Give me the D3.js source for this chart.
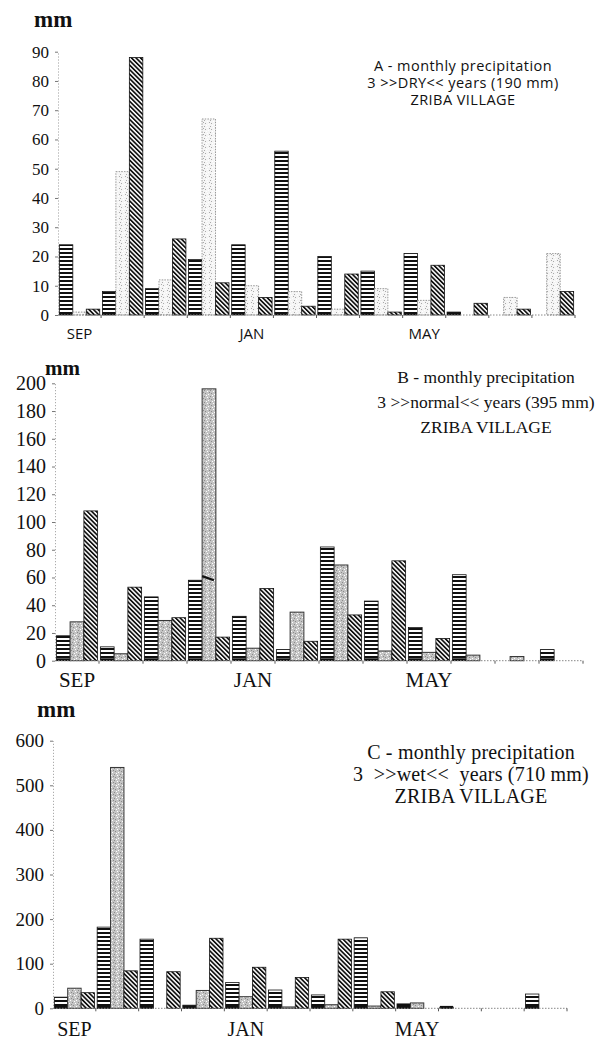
<!DOCTYPE html>
<html>
<head>
<meta charset="utf-8">
<script src="https://cdn.jsdelivr.net/npm/d3@7"></script>
<style>
  body { margin: 0; background: #fff; }
  svg text { fill: #111; }
</style>
</head>
<body>
<div id="chart"></div>
<script>
// months of the hydrological year, Sep -> Aug
const months = ["SEP", "OCT", "NOV", "DEC", "JAN", "FEB", "MAR", "APR", "MAY", "JUN", "JUL", "AUG"];
const shownMonths = ["SEP", "JAN", "MAY"];

// A - 3 dry years (mm)
const dry1 = [24, 8, 9, 19, 24, 56, 20, 15, 21, 1, 0, 0];
const dry2 = [1, 49, 12, 67, 10, 8, 2, 9, 5, 0, 6, 21];
const dry3 = [2, 88, 26, 11, 6, 3, 14, 1, 17, 4, 2, 8];

// B - 3 normal years (mm)
const normal1 = [18, 10, 46, 58, 32, 8, 82, 43, 24, 62, 0, 8];
const normal2 = [28, 5, 29, 196, 9, 35, 69, 7, 6, 4, 3, 0];
const normal3 = [108, 53, 31, 17, 52, 14, 33, 72, 16, 0, 0, 0];

// C - 3 wet years (mm)
const wet1 = [25, 182, 155, 7, 58, 41, 30, 158, 10, 2, 0, 32];
const wet2 = [45, 540, 0, 40, 26, 3, 8, 5, 12, 0, 0, 0];
const wet3 = [35, 84, 82, 157, 92, 69, 155, 37, 0, 0, 0, 0];

// tick labels
const ticksA = [0, 10, 20, 30, 40, 50, 60, 70, 80, 90];
const ticksB = [0, 20, 40, 60, 80, 100, 120, 140, 160, 180, 200];
const ticksC = [0, 100, 200, 300, 400, 500, 600];

const titleA = ["A - monthly precipitation", "3 >>DRY<< years (190 mm)", "ZRIBA VILLAGE"];
const titleB = ["B - monthly precipitation", "3 >>normal<< years (395 mm)", "ZRIBA VILLAGE"];
const titleC = ["C - monthly precipitation", "3  >>wet<<  years (710 mm)", "ZRIBA VILLAGE"];

const width = 602, height = 1039;
const serif = "'Liberation Serif', 'DejaVu Serif', serif";
const sans = "'Open Sans', 'DejaVu Sans', sans-serif";

const svg = d3.select("#chart").append("svg")
    .attr("width", width)
    .attr("height", height);

// fill patterns
const defs = svg.append("defs");

const stripes = defs.append("pattern")
    .attr("id", "stripes")
    .attr("patternUnits", "userSpaceOnUse")
    .attr("width", 4).attr("height", 4);
stripes.append("rect").attr("width", 4).attr("height", 4).attr("fill", "#fff");
stripes.append("rect").attr("width", 4).attr("height", 2).attr("fill", "#111");

const hatch = defs.append("pattern")
    .attr("id", "hatch")
    .attr("patternUnits", "userSpaceOnUse")
    .attr("width", 3.2).attr("height", 3.2)
    .attr("patternTransform", "rotate(-45)");
hatch.append("rect").attr("width", 3.2).attr("height", 3.2).attr("fill", "#fff");
hatch.append("rect").attr("width", 1.7).attr("height", 3.2).attr("fill", "#111");

function stipple(id, bg, dots) {
    const p = defs.append("pattern")
        .attr("id", id)
        .attr("patternUnits", "userSpaceOnUse")
        .attr("width", 6).attr("height", 6);
    p.append("rect").attr("width", 6).attr("height", 6).attr("fill", bg);
    [[0, 0], [3, 1], [1, 3], [4, 4], [5, 2], [2, 5]].forEach((d, i) => {
        p.append("rect")
            .attr("x", d[0]).attr("y", d[1])
            .attr("width", 1).attr("height", 1)
            .attr("fill", i % 2 ? "#fff" : dots);
    });
}
stipple("dotsLight", "#f5f5f5", "#aaa");
stipple("dotsGrey", "#c4c4c4", "#8a8a8a");

// panels: data + where they sit on the page
const panels = [
    { series: [dry1, dry2, dry3], ticks: ticksA, max: 90, x0: 58, x1: 575, y0: 315, y1: 51.7,
      title: titleA, titleX: 463, titleY: 71, titleGap: 17, titleFont: sans, titleSize: 14.5, titleSpacing: 0.45,
      mm: [34, 27, 23], labelSize: 17, monthFont: sans, monthSize: 15, monthY: 339,
      dots: "dotsLight", dotsStroke: "#999", dotsDash: "1.5,1.2" },
    { series: [normal1, normal2, normal3], ticks: ticksB, max: 200, x0: 55, x1: 583, y0: 660.7, y1: 383.3,
      title: titleB, titleX: 486, titleY: 383, titleGap: 25, titleFont: serif, titleSize: 17.5, titleSpacing: 0,
      mm: [45, 375, 21], labelSize: 20, monthFont: serif, monthSize: 21, monthY: 687,
      dots: "dotsGrey", dotsStroke: "#333", dotsDash: null },
    { series: [wet1, wet2, wet3], ticks: ticksC, max: 600, x0: 53, x1: 567, y0: 1008.3, y1: 740.7,
      title: titleC, titleX: 471, titleY: 759, titleGap: 22, titleFont: serif, titleSize: 20, titleSpacing: 0.2,
      mm: [37, 717, 23], labelSize: 19, monthFont: serif, monthSize: 20, monthY: 1036,
      dots: "dotsGrey", dotsStroke: "#333", dotsDash: null }
];

panels.forEach(function(p) {
    const g = svg.append("g");

    const x = d3.scaleBand()
        .domain(months)
        .range([p.x0, p.x1]);

    const xSub = d3.scaleBand()
        .domain([0, 1, 2])
        .range([0, x.bandwidth()])
        .paddingOuter(0.1);

    const y = d3.scaleLinear()
        .domain([0, p.max])
        .range([p.y0, p.y1]);

    // bars
    const fills = ["url(#stripes)", "url(#" + p.dots + ")", "url(#hatch)"];
    p.series.forEach(function(values, s) {
        const rows = values.map((v, i) => ({ month: months[i], value: v })).filter(d => d.value > 0);
        g.append("g")
            .selectAll("rect")
            .data(rows)
            .join("rect")
            .attr("x", d => x(d.month) + xSub(s))
            .attr("y", d => y(d.value))
            .attr("width", xSub.bandwidth())
            .attr("height", d => y(0) - y(d.value))
            .attr("fill", fills[s])
            .attr("stroke", s === 1 ? p.dotsStroke : "#111")
            .attr("stroke-width", s === 1 ? 1 : 0.8)
            .attr("stroke-dasharray", s === 1 ? p.dotsDash : null);

        // dark foot on the striped bars
        if (s === 0) {
            g.append("g")
                .selectAll("line")
                .data(rows)
                .join("line")
                .attr("x1", d => x(d.month) + xSub(s))
                .attr("x2", d => x(d.month) + xSub(s) + xSub.bandwidth())
                .attr("y1", y(0) - 1.2)
                .attr("y2", y(0) - 1.2)
                .attr("stroke", "#111")
                .attr("stroke-width", 2.4);
        }
    });

    // y axis
    const yAxis = d3.axisLeft(y)
        .tickValues(p.ticks)
        .tickSize(3)
        .tickSizeOuter(0)
        .tickPadding(6);

    const ya = g.append("g")
        .attr("transform", `translate(${p.x0},0)`)
        .call(yAxis);
    ya.select(".domain")
        .attr("stroke", "#999")
        .attr("stroke-dasharray", "1,2");
    ya.selectAll(".tick line").attr("stroke", "#777");
    ya.selectAll(".tick text")
        .attr("font-family", serif)
        .attr("font-size", p.labelSize)
        .attr("fill", "#111");

    // baseline with month separators
    g.append("line")
        .attr("x1", p.x0).attr("x2", p.x1)
        .attr("y1", y(0)).attr("y2", y(0))
        .attr("stroke", "#888")
        .attr("stroke-dasharray", "1.5,1.5");
    g.append("g")
        .selectAll("line")
        .data(months.slice(1).concat(["END"]))
        .join("line")
        .attr("x1", d => d === "END" ? p.x1 : x(d))
        .attr("x2", d => d === "END" ? p.x1 : x(d))
        .attr("y1", y(0))
        .attr("y2", y(0) + 3)
        .attr("stroke", "#555");

    g.append("g")
        .selectAll("text")
        .data(shownMonths)
        .join("text")
        .attr("x", d => x(d) + x.bandwidth() / 2)
        .attr("y", p.monthY)
        .attr("text-anchor", "middle")
        .attr("font-family", p.monthFont)
        .attr("font-size", p.monthSize)
        .text(d => d);

    // unit label
    g.append("text")
        .attr("x", p.mm[0])
        .attr("y", p.mm[1])
        .attr("font-family", serif)
        .attr("font-weight", "bold")
        .attr("font-size", p.mm[2])
        .text("mm");

    // title
    g.append("g")
        .selectAll("text")
        .data(p.title)
        .join("text")
        .attr("x", p.titleX)
        .attr("y", (d, i) => p.titleY + i * p.titleGap)
        .attr("text-anchor", "middle")
        .attr("font-family", p.titleFont)
        .attr("font-size", p.titleSize)
        .attr("letter-spacing", p.titleSpacing)
        .style("white-space", "pre")
        .text(d => d);

    // marker on the tall DEC bar of panel B
    if (p.series[1] === normal2) {
        const bx = x("DEC") + xSub(1);
        g.append("path")
            .attr("d", `M${bx},${y(61)} L${bx + xSub.bandwidth() - 2},${y(58)}`)
            .attr("stroke", "#111")
            .attr("stroke-width", 2.2);
    }
});
</script>
</body>
</html>
